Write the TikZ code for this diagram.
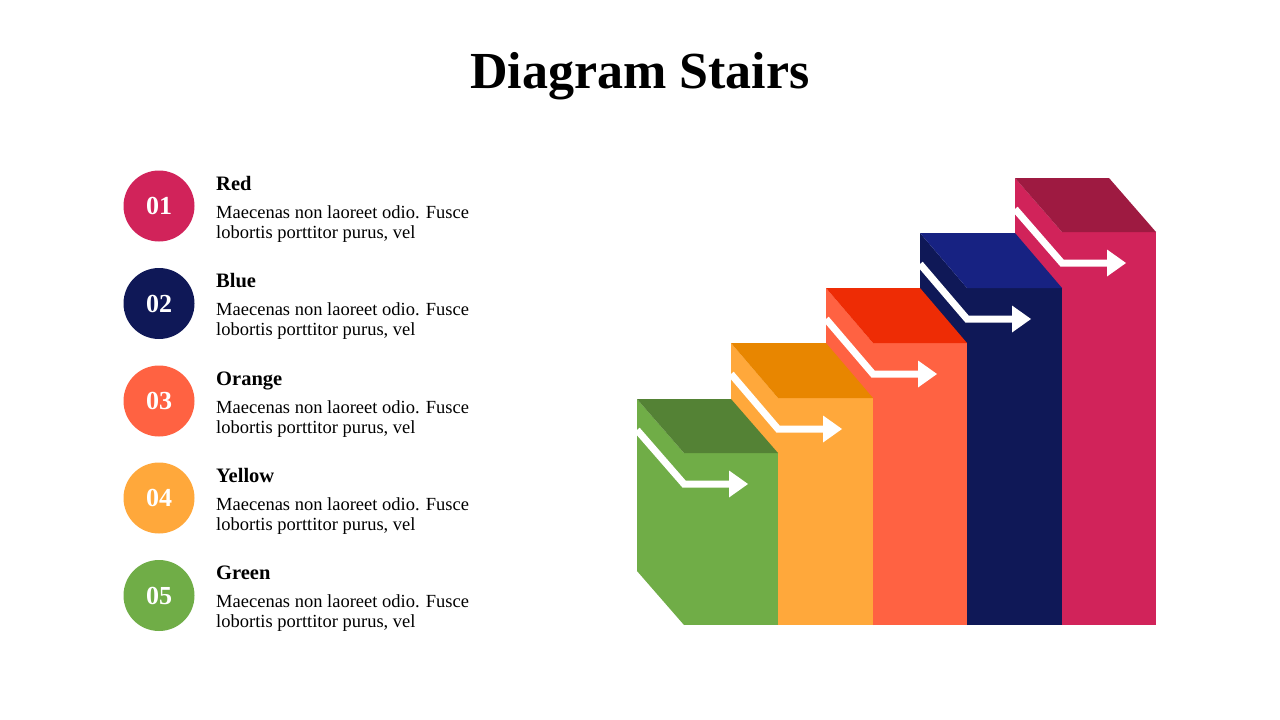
\documentclass[tikz,border=0pt]{standalone}
\usepackage{fontspec}
\setmainfont{Liberation Serif}
\definecolor{cpink}{HTML}{D1235A}
\definecolor{cpinktop}{HTML}{9E1A41}
\definecolor{cnavy}{HTML}{0F1857}
\definecolor{cnavytop}{HTML}{172282}
\definecolor{cred}{HTML}{FF6242}
\definecolor{credtop}{HTML}{EE2C05}
\definecolor{cyel}{HTML}{FFA83B}
\definecolor{cyeltop}{HTML}{E88600}
\definecolor{cgreen}{HTML}{70AD47}
\definecolor{cgreentop}{HTML}{548235}
\tikzset{
  numcircle/.style={circle, minimum size=71pt, inner sep=0pt, text=white, font=\bfseries\fontsize{26}{26}\selectfont},
  headtext/.style={anchor=base west, inner sep=0pt, font=\bfseries\fontsize{20.5}{20.5}\selectfont},
  bodytext/.style={anchor=base west, inner sep=0pt, font=\fontsize{18.5}{18.5}\selectfont},
  stairarrow/.style={draw=white, line width=7pt, line join=miter},
}
% \stairblock{back x}{front x}{right x}{top y}{front y}{face colour}{top colour}
\newcommand{\stairblock}[7]{%
  \fill[#6] (#1,#4) -- (#2,#5) -- (#2,625) -- (#1,625-#5+#4) -- cycle;
  \fill[#6] (#2,#5) rectangle (#3,625);
  \fill[#7] (#1,#4) -- (#1+#3-#2,#4) -- (#3,#5) -- (#2,#5) -- cycle;
  \begin{scope}
    \clip (#1,0) rectangle (1280,720);
    \draw[stairarrow] (#1,#4+31) -- (#2,#5+31) -- (#2+47,#5+31);
  \end{scope}
  \fill[white] (#2+45,#5+17.5) -- (#2+64,#5+31) -- (#2+45,#5+44.5) -- cycle;
}
\begin{document}
\begin{tikzpicture}[x=1pt,y=-1pt]
\useasboundingbox (0,0) rectangle (1280,720);
\fill[white] (0,0) rectangle (1280,720);

\node[anchor=base, inner sep=0pt, font=\bfseries\fontsize{52}{52}\selectfont] (title) at (640,88) {Diagram Stairs};

% stairs, back to front
\stairblock{1015}{1062}{1156}{178}{232}{cpink}{cpinktop}
\stairblock{920}{967}{1062}{233}{288}{cnavy}{cnavytop}
\stairblock{826}{873}{967}{288}{343}{cred}{credtop}
\stairblock{731}{778}{873}{343}{398}{cyel}{cyeltop}
\stairblock{637}{684}{778}{399}{453}{cgreen}{cgreentop}

% list
\node[numcircle, fill=cpink] (n1) at (159,206) {01};
\node[headtext] (h1) at (216,190) {Red};
\node[bodytext] (b1a) at (216,218) {Maecenas non laoreet odio. Fusce};
\node[bodytext] (b1b) at (216,238) {lobortis porttitor purus, vel};

\node[numcircle, fill=cnavy] (n2) at (159,303.5) {02};
\node[headtext] (h2) at (216,287.5) {Blue};
\node[bodytext] (b2a) at (216,315.5) {Maecenas non laoreet odio. Fusce};
\node[bodytext] (b2b) at (216,335.5) {lobortis porttitor purus, vel};

\node[numcircle, fill=cred] (n3) at (159,401) {03};
\node[headtext] (h3) at (216,385) {Orange};
\node[bodytext] (b3a) at (216,413) {Maecenas non laoreet odio. Fusce};
\node[bodytext] (b3b) at (216,433) {lobortis porttitor purus, vel};

\node[numcircle, fill=cyel] (n4) at (159,498) {04};
\node[headtext] (h4) at (216,482) {Yellow};
\node[bodytext] (b4a) at (216,510) {Maecenas non laoreet odio. Fusce};
\node[bodytext] (b4b) at (216,530) {lobortis porttitor purus, vel};

\node[numcircle, fill=cgreen] (n5) at (159,595.5) {05};
\node[headtext] (h5) at (216,579.5) {Green};
\node[bodytext] (b5a) at (216,607.5) {Maecenas non laoreet odio. Fusce};
\node[bodytext] (b5b) at (216,627.5) {lobortis porttitor purus, vel};
\end{tikzpicture}
\end{document}
